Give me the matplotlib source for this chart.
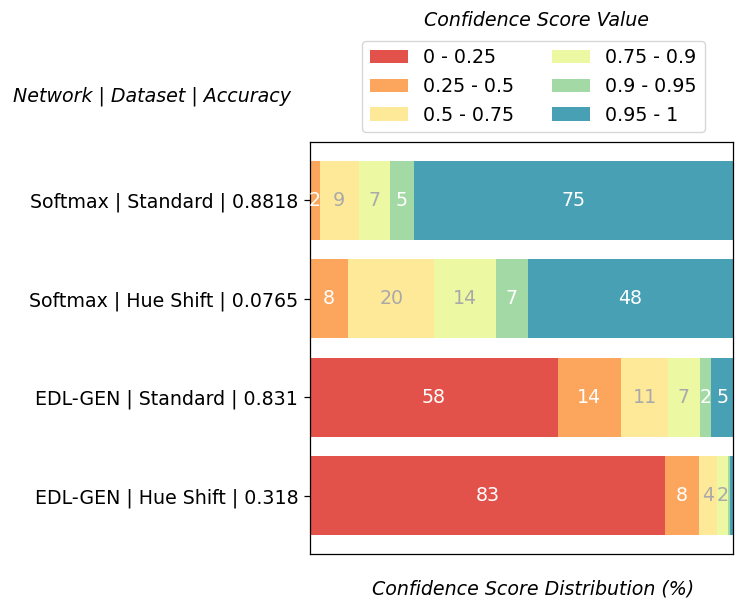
import numpy as np
import matplotlib.pyplot as plt

rows = ["Softmax | Standard | 0.8818",
        "Softmax | Hue Shift | 0.0765",
        "EDL-GEN | Standard | 0.831",
        "EDL-GEN | Hue Shift | 0.318"]
bins = ["0 - 0.25", "0.25 - 0.5", "0.5 - 0.75", "0.75 - 0.9", "0.9 - 0.95", "0.95 - 1"]

# percent of samples per confidence bin, one row per network/dataset
dist = np.array([
    [0.05, 2.3, 9.15, 7.5, 5.5, 75.5],
    [0.1, 8.9, 20.4, 14.5, 7.6, 48.5],
    [58.6, 14.9, 11.2, 7.4, 2.8, 5.1],
    [83.9, 8.1, 4.3, 2.4, 0.5, 0.8],
])

colors = plt.cm.Spectral(np.linspace(0, 1, 8)[1:-1])
text_colors = ["white", "white", "darkgrey", "darkgrey", "white", "white"]
fs = 13.7

fig = plt.figure(figsize=(7.47, 6.13), dpi=100)
ax = fig.add_axes([310/747, 1-554/613, 423/747, 412/613])

y = np.arange(len(rows))
left = np.zeros(len(rows))
for i, b in enumerate(bins):
    w = dist[:, i]
    ax.barh(y, w, left=left, height=0.8, color=colors[i], label=b)
    for yy, ll, ww in zip(y, left, w):
        if int(ww) >= 1:
            ax.text(ll + ww/2, yy, str(int(ww)), ha="center", va="center",
                    color=text_colors[i], fontsize=fs)
    left += w

ax.set_xlim(0, 100)
ax.invert_yaxis()
ax.set_yticks(y)
ax.set_yticklabels(rows, fontsize=fs)
ax.set_xticks([])
ax.tick_params(axis="y", length=4, width=0.9, pad=4.5)
for s in ax.spines.values():
    s.set_linewidth(0.9)

ax.legend(ncol=2, loc="lower center", bbox_to_anchor=(0.528, 1.024), borderaxespad=0,
          fontsize=fs)
fig.text(536/747, 1-21/613, "Confidence Score Value", style="italic", fontsize=fs,
         ha="center", va="center")
fig.text(13/747, 1-96/613, "Network | Dataset | Accuracy", style="italic", fontsize=fs,
         ha="left", va="center")
fig.text(533/747, 1-589/613, "Confidence Score Distribution (%)", style="italic", fontsize=fs,
         ha="center", va="center")

fig.savefig("out.png", dpi=100)
